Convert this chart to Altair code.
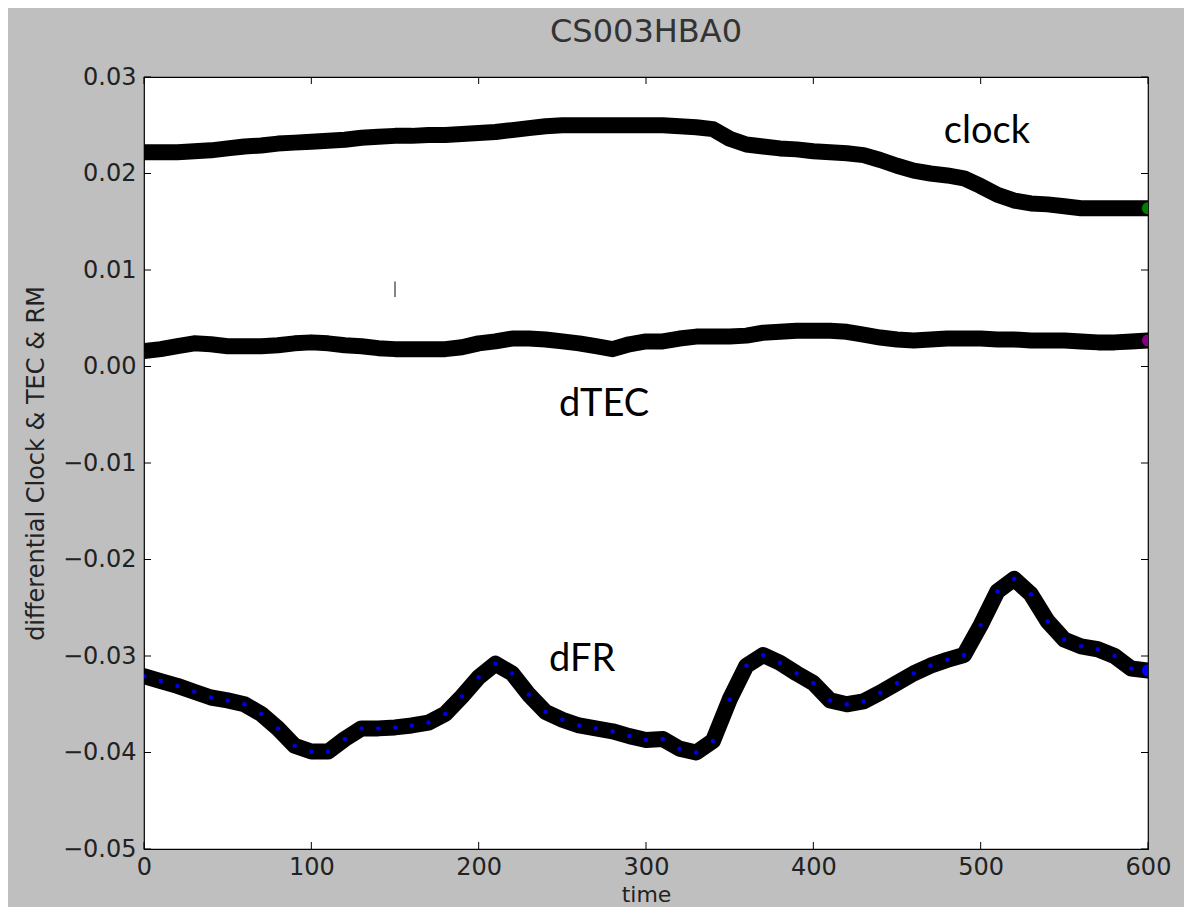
import altair as alt
import pandas as pd

# ---------------- data ----------------
time = list(range(0, 601, 10))

clock = [
    0.0222, 0.0222, 0.0222, 0.0223, 0.0224, 0.0226, 0.0228, 0.0229, 0.0231, 0.0232,
    0.0233, 0.0234, 0.0235, 0.0237, 0.0238, 0.0239, 0.0239, 0.0240, 0.0240, 0.0241,
    0.0242, 0.0243, 0.0245, 0.0247, 0.0249, 0.0250, 0.0250, 0.0250, 0.0250, 0.0250,
    0.0250, 0.0250, 0.0249, 0.0248, 0.0246, 0.0236, 0.0230, 0.0228, 0.0226, 0.0225,
    0.0223, 0.0222, 0.0221, 0.0219, 0.0214, 0.0208, 0.0203, 0.0200, 0.0198, 0.0195,
    0.0187, 0.0178, 0.0172, 0.0169, 0.0168, 0.0166, 0.0164, 0.0164, 0.0164, 0.0164,
    0.0164,
]

dtec = [
    0.0016, 0.0018, 0.0021, 0.0024, 0.0023, 0.0021, 0.0021, 0.0021, 0.0022, 0.0024,
    0.0025, 0.0024, 0.0022, 0.0021, 0.0019, 0.0018, 0.0018, 0.0018, 0.0018, 0.0020,
    0.0024, 0.0026, 0.0029, 0.0029, 0.0028, 0.0026, 0.0024, 0.0021, 0.0018, 0.0023,
    0.0026, 0.0026, 0.0029, 0.0031, 0.0031, 0.0031, 0.0032, 0.0035, 0.0036, 0.0037,
    0.0037, 0.0037, 0.0036, 0.0033, 0.0030, 0.0028, 0.0027, 0.0028, 0.0029, 0.0029,
    0.0029, 0.0028, 0.0028, 0.0027, 0.0027, 0.0027, 0.0026, 0.0025, 0.0025, 0.0026,
    0.0027,
]

dfr = [
    -0.0321, -0.0326, -0.0331, -0.0337, -0.0343, -0.0346, -0.0350, -0.0360, -0.0375, -0.0393,
    -0.0399, -0.0399, -0.0386, -0.0375, -0.0375, -0.0374, -0.0372, -0.0369, -0.0360, -0.0342,
    -0.0322, -0.0308, -0.0318, -0.0340, -0.0358, -0.0366, -0.0372, -0.0375, -0.0378, -0.0383,
    -0.0387, -0.0386, -0.0396, -0.0400, -0.0388, -0.0345, -0.0310, -0.0299, -0.0307, -0.0318,
    -0.0328, -0.0346, -0.0350, -0.0347, -0.0338, -0.0328, -0.0318, -0.0310, -0.0304, -0.0299,
    -0.0268, -0.0233, -0.0220, -0.0236, -0.0264, -0.0283, -0.0290, -0.0293, -0.0300, -0.0313,
    -0.0315,
]

series_names = ["clock", "dTEC", "dFR"]
series_colors = ["#008000", "#800080", "#0000ff"]

x_ticks = [0, 100, 200, 300, 400, 500, 600]
y_ticks = [-0.05, -0.04, -0.03, -0.02, -0.01, 0.0, 0.01, 0.02, 0.03]

label_text = ["clock", "dTEC", "dFR"]
label_time = [478, 248, 242]
label_value = [0.0232, -0.0051, -0.0316]

stray_time = [150]
stray_top = [0.0088]
stray_bottom = [0.0072]

X_TITLE = "time"
Y_TITLE = "differential Clock & TEC & RM"

# ---------------- tables ----------------
W, H = 1004, 772

rows = []
for name, vals in zip(series_names, [clock, dtec, dfr]):
    for t, v in zip(time, vals):
        rows.append({"time": t, "value": v, "series": name})
df = pd.DataFrame(rows)
df_fr = df[df.series == "dFR"]
df_end = df[df.time == time[-1]]

df_xt = pd.DataFrame({"time": x_ticks})
df_yt = pd.DataFrame({"value": y_ticks})
df_lab = pd.DataFrame({"text": label_text, "time": label_time, "value": label_value})
df_stray = pd.DataFrame({"time": stray_time, "value": stray_top, "value2": stray_bottom})

xscale = alt.Scale(domain=[0, 600], nice=False, zero=False)
yscale = alt.Scale(domain=[-0.05, 0.03], nice=False, zero=False)

xaxis = alt.Axis(
    values=x_ticks, format="d", labelPadding=6, labelFlush=False,
    titleFontSize=22, titleBaseline="top", titleY=35,
)
yaxis = alt.Axis(values=y_ticks, format=".2f", labelPadding=8, titlePadding=14)


def X():
    return alt.X("time:Q", scale=xscale, axis=xaxis, title=X_TITLE)


def Y():
    return alt.Y("value:Q", scale=yscale, axis=yaxis, title=Y_TITLE)


bands = alt.Chart(df).mark_line(
    strokeWidth=16, strokeCap="round", strokeJoin="round", color="black", clip=True
).encode(x=X(), y=Y(), detail="series:N")

speckles = alt.Chart(df_fr).mark_circle(size=20, color="#0000ff", opacity=0.9, clip=True).encode(
    x=X(), y=Y()
)

ends = alt.Chart(df_end).mark_point(
    shape="circle", filled=True, size=170, stroke="black", strokeWidth=1, opacity=1, clip=True
).encode(
    x=X(), y=Y(),
    fill=alt.Fill("series:N", scale=alt.Scale(domain=series_names, range=series_colors), legend=None),
)

labels = alt.Chart(df_lab).mark_text(
    font="Lato", fontSize=38, align="left", baseline="alphabetic", color="black"
).encode(x=X(), y=Y(), text="text:N")

stray = alt.Chart(df_stray).mark_rule(color="#333", strokeWidth=1.2).encode(
    x=X(), y=Y(), y2="value2:Q"
)

tick_len = 7
xt_bottom = alt.Chart(df_xt).mark_rule(color="black", strokeWidth=1).encode(
    x=X(), y=alt.value(H), y2=alt.value(H - tick_len))
xt_top = alt.Chart(df_xt).mark_rule(color="black", strokeWidth=1).encode(
    x=X(), y=alt.value(0), y2=alt.value(tick_len))
yt_left = alt.Chart(df_yt).mark_rule(color="black", strokeWidth=1).encode(
    y=Y(), x=alt.value(0), x2=alt.value(tick_len))
yt_right = alt.Chart(df_yt).mark_rule(color="black", strokeWidth=1).encode(
    y=Y(), x=alt.value(W), x2=alt.value(W - tick_len))

chart = alt.layer(
    bands, speckles, ends, stray, labels, xt_bottom, xt_top, yt_left, yt_right
).properties(
    width=W,
    height=H,
    autosize=alt.AutoSizeParams(type="none"),
    padding={"left": 136, "top": 69, "right": 36, "bottom": 899 - 69 - H},
    background="#bfbfbf",
    title=alt.Title(
        "CS003HBA0", font="DejaVu Sans", fontSize=32, fontWeight="normal",
        color="#333333", anchor="middle", offset=16,
    ),
).configure_view(
    fill="white", stroke="black", strokeWidth=1.2
).configure_axis(
    labelFont="DejaVu Sans", labelFontSize=24, labelColor="#222222",
    titleFont="DejaVu Sans", titleFontSize=24, titleColor="#222222", titleFontWeight="normal",
    tickSize=0, domain=False, grid=False,
)

chart.save("out.html", embed_options={"renderer": "svg", "actions": False})
